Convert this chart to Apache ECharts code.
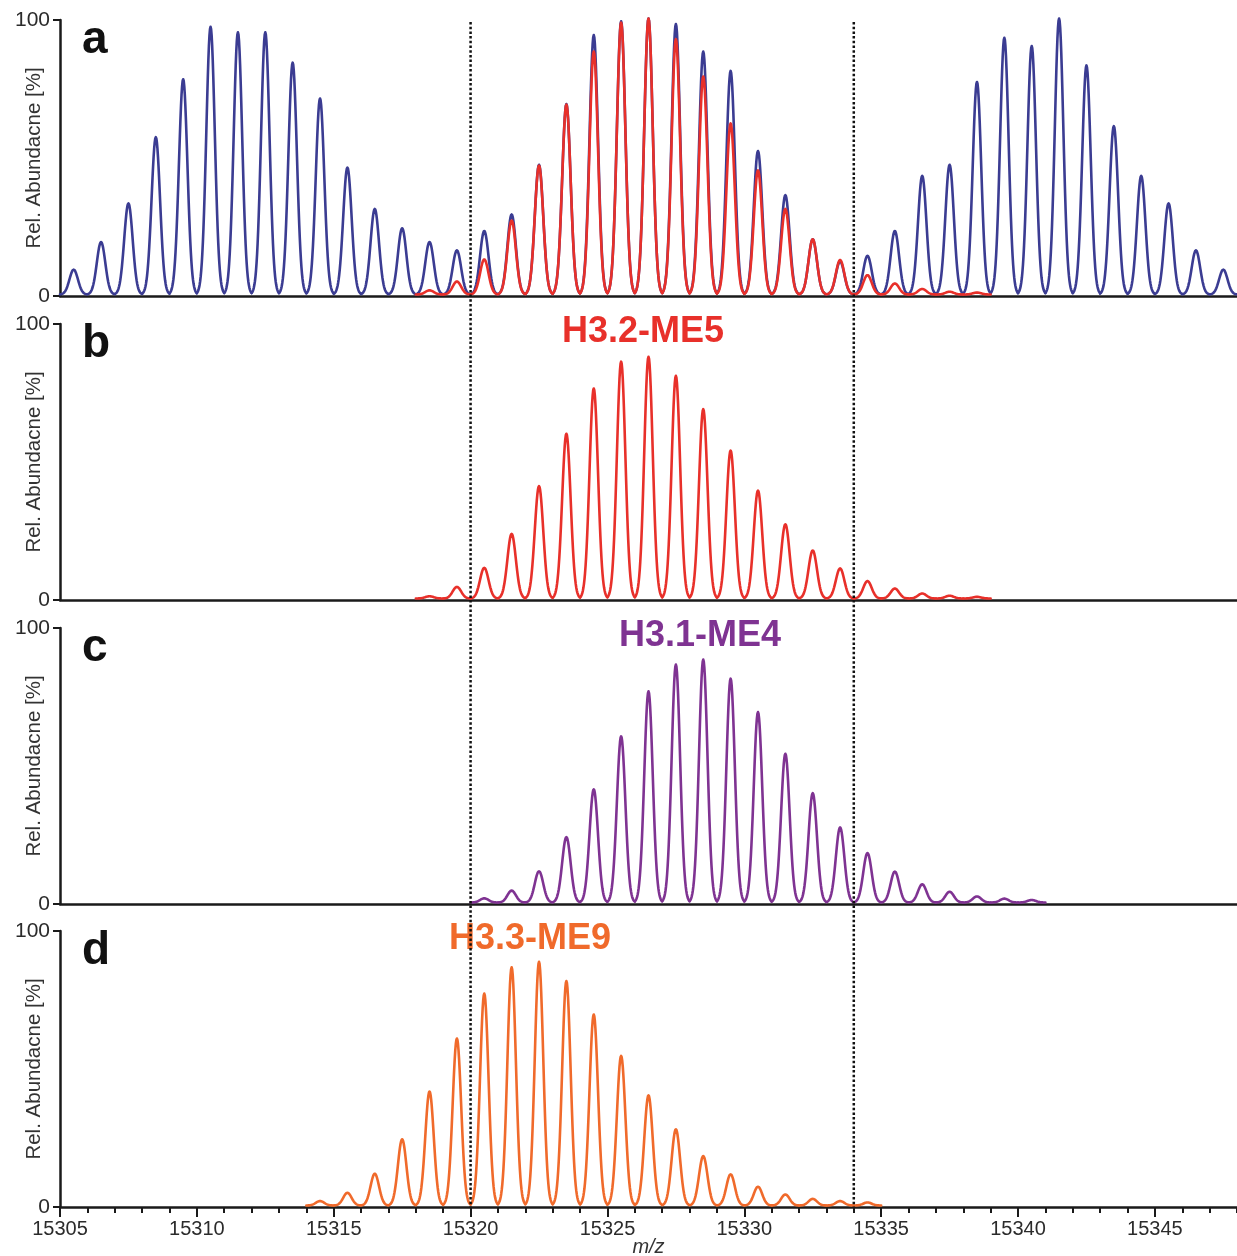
<!DOCTYPE html>
<html>
<head>
<meta charset="utf-8">
<script src="https://cdn.jsdelivr.net/npm/echarts@6/dist/echarts.min.js"></script>
<style>
  html, body { margin: 0; padding: 0; background: #ffffff; }
  #chart { width: 1237px; height: 1256px; }
</style>
</head>
<body>
<div id="chart"></div>
<script>
// Isotope peak lists (m/z of each peak apex, relative abundance in %)

// Panel a: measured spectrum (three overlapping envelopes)
const mzMeasured = [
  15305.5, 15306.5, 15307.5, 15308.5, 15309.5, 15310.5, 15311.5, 15312.5, 15313.5, 15314.5,
  15315.5, 15316.5, 15317.5, 15318.5, 15319.5, 15320.5, 15321.5, 15322.5, 15323.5, 15324.5,
  15325.5, 15326.5, 15327.5, 15328.5, 15329.5, 15330.5, 15331.5, 15332.5, 15333.5, 15334.5,
  15335.5, 15336.5, 15337.5, 15338.5, 15339.5, 15340.5, 15341.5, 15342.5, 15343.5, 15344.5,
  15345.5, 15346.5, 15347.5
];
const relMeasured = [
  9, 19, 33, 57, 78, 97, 95, 95, 84, 71,
  46, 31, 24, 19, 16, 23, 29, 47, 69, 94,
  99, 100, 98, 88, 81, 52, 36, 20, 12, 14,
  23, 43, 47, 77, 93, 90, 100, 83, 61, 43,
  33, 16, 9
];

// Panel a: H3.2-ME5 overlay, scaled to the measured envelope
const mzME5Overlay = [
  15318.5, 15319.5, 15320.5, 15321.5, 15322.5, 15323.5, 15324.5, 15325.5, 15326.5, 15327.5,
  15328.5, 15329.5, 15330.5, 15331.5, 15332.5, 15333.5, 15334.5, 15335.5, 15336.5, 15337.5,
  15338.5
];
const relME5Overlay = [
  1.5, 4.7, 12.7, 26.8, 46.7, 68.8, 88, 98.5, 100, 92.5,
  79, 62, 45, 31, 20, 12.5, 7, 4, 2, 1,
  0.7
];

// Panel b: H3.2-ME5
const mzME5 = [
  15318.5, 15319.5, 15320.5, 15321.5, 15322.5, 15323.5, 15324.5, 15325.5, 15326.5, 15327.5,
  15328.5, 15329.5, 15330.5, 15331.5, 15332.5, 15333.5, 15334.5, 15335.5, 15336.5, 15337.5,
  15338.5
];
const relME5 = [
  0.8, 4.2, 11.1, 23.4, 40.7, 59.7, 76.1, 85.8, 87.6, 80.7,
  68.6, 53.6, 39.1, 26.9, 17.4, 10.9, 6.3, 3.6, 1.8, 1.0,
  0.6
];

// Panel c: H3.1-ME4
const mzME4 = [
  15320.5, 15321.5, 15322.5, 15323.5, 15324.5, 15325.5, 15326.5, 15327.5, 15328.5, 15329.5,
  15330.5, 15331.5, 15332.5, 15333.5, 15334.5, 15335.5, 15336.5, 15337.5, 15338.5, 15339.5,
  15340.5
];
const relME4 = [
  1.5, 4.3, 11.3, 23.7, 41, 60.2, 76.5, 86.2, 88, 81.1,
  69, 53.9, 39.6, 27.2, 17.9, 11.2, 6.6, 3.9, 2.2, 1.4,
  0.9
];

// Panel d: H3.3-ME9
const mzME9 = [
  15314.5, 15315.5, 15316.5, 15317.5, 15318.5, 15319.5, 15320.5, 15321.5, 15322.5, 15323.5,
  15324.5, 15325.5, 15326.5, 15327.5, 15328.5, 15329.5, 15330.5, 15331.5, 15332.5, 15333.5,
  15334.5
];
const relME9 = [
  1.6, 4.6, 11.5, 24, 41.3, 60.5, 76.8, 86.3, 88.3, 81.3,
  69.2, 54.2, 39.9, 27.6, 17.9, 11.3, 6.8, 4.0, 2.4, 1.6,
  1.1
];

// Dotted reference lines
const markerMz = [15320, 15334];

// Axis labels
const xTickLabels = [15305, 15310, 15315, 15320, 15325, 15330, 15335, 15340, 15345];
const panelLetters = ['a', 'b', 'c', 'd'];
const speciesNames = ['H3.2-ME5', 'H3.1-ME4', 'H3.3-ME9'];
const yAxisTitle = 'Rel. Abundacne [%]';
const xAxisTitle = 'm/z';

// ---- styling / layout ----
const FONT = '"Liberation Sans", Arial, Helvetica, sans-serif';
const INK = '#1a1a1a';
const C_BLUE = '#3b3c92';
const C_RED = '#e8302a';
const C_PURPLE = '#7f3392';
const C_ORANGE = '#f06a2b';
const X_MIN = 15305, X_MAX = 15348;
const GRID_LEFT = 60, GRID_RIGHT = 0;
const PANEL_TOPS = [20, 324, 628, 931];
const PANEL_H = 276;
const PEAK_SIGMA = 0.155;  // peak width (m/z units) of the profile shape
const LIFT = 1.5;          // keeps the trace baseline just above the axis line

function toPairs(xs, ys) { return xs.map((x, i) => [x, ys[i]]); }

// Draws one isotope peak as a smooth profile spanning +/-0.5 m/z around its apex
function peakRenderer(color, width) {
  return function (params, api) {
    const c = api.value(0), h = api.value(1);
    const pts = [];
    for (let k = -25; k <= 25; k++) {
      const dx = k * 0.02;
      const y = h * Math.exp(-(dx * dx) / (2 * PEAK_SIGMA * PEAK_SIGMA));
      const p = api.coord([c + dx, y]);
      pts.push([p[0], p[1] - LIFT]);
    }
    return {
      type: 'polyline',
      silent: true,
      shape: { points: pts },
      style: { stroke: color, lineWidth: width, fill: null, lineJoin: 'round', lineCap: 'round' }
    };
  };
}

function spectrumSeries(name, xs, ys, gridIdx, color, z) {
  return {
    name: name,
    type: 'custom',
    xAxisIndex: gridIdx,
    yAxisIndex: gridIdx,
    data: toPairs(xs, ys),
    encode: { x: 0, y: 1 },
    renderItem: peakRenderer(color, 2.6),
    z: z,
    silent: true
  };
}

const grids = PANEL_TOPS.map(t => ({
  left: GRID_LEFT, right: GRID_RIGHT, top: t, height: PANEL_H,
  containLabel: false, outerBoundsMode: 'none'
}));
// overlay grid spanning all panels, used for the dotted reference lines
grids.push({
  left: GRID_LEFT, right: GRID_RIGHT, top: PANEL_TOPS[0] + 2,
  height: PANEL_TOPS[3] + PANEL_H - PANEL_TOPS[0] - 2,
  containLabel: false, outerBoundsMode: 'none'
});

const xAxes = PANEL_TOPS.map((t, i) => ({
  gridIndex: i,
  type: 'value',
  min: X_MIN,
  max: X_MAX,
  interval: 1,
  axisLine: { show: true, onZero: false, lineStyle: { color: INK, width: 2.5 } },
  axisTick: { show: i === 3, length: 6, lineStyle: { color: INK, width: 2 } },
  axisLabel: {
    show: i === 3,
    margin: 12,
    fontSize: 20,
    fontFamily: FONT,
    color: '#2b2b2b',
    formatter: v => (xTickLabels.indexOf(v) >= 0 ? String(v) : '')
  },
  splitLine: { show: false },
  name: i === 3 ? xAxisTitle : '',
  nameLocation: 'middle',
  nameGap: 30,
  nameMoveOverlap: false,
  nameTextStyle: { fontStyle: 'italic', fontSize: 20, fontFamily: FONT, color: '#333' }
}));
// longer ticks at every labelled position of the bottom axis
xAxes.push({
  gridIndex: 3,
  type: 'value',
  position: 'bottom',
  min: X_MIN,
  max: X_MAX,
  interval: 5,
  axisLine: { show: false },
  axisTick: { show: true, length: 10, customValues: xTickLabels, lineStyle: { color: INK, width: 2 } },
  axisLabel: { show: false },
  splitLine: { show: false }
});
xAxes.push({ gridIndex: 4, type: 'value', min: X_MIN, max: X_MAX, show: false });

const yAxes = PANEL_TOPS.map((t, i) => ({
  gridIndex: i,
  type: 'value',
  min: 0,
  max: 100,
  interval: 100,
  axisLine: { show: true, lineStyle: { color: INK, width: 2.5 } },
  axisTick: { show: true, length: 7, lineStyle: { color: INK, width: 2 } },
  axisLabel: { margin: 10, fontSize: 21, fontFamily: FONT, color: '#2b2b2b' },
  splitLine: { show: false },
  name: yAxisTitle,
  nameLocation: 'middle',
  nameRotate: 90,
  nameGap: 15,
  nameMoveOverlap: false,
  nameTextStyle: { fontSize: 20.5, fontFamily: FONT, color: '#333' }
}));
yAxes.push({ gridIndex: 4, type: 'value', min: 0, max: 1, show: false });

const series = [
  spectrumSeries('measured', mzMeasured, relMeasured, 0, C_BLUE, 2),
  spectrumSeries('H3.2-ME5 overlay', mzME5Overlay, relME5Overlay, 0, C_RED, 3),
  spectrumSeries(speciesNames[0], mzME5, relME5, 1, C_RED, 2),
  spectrumSeries(speciesNames[1], mzME4, relME4, 2, C_PURPLE, 2),
  spectrumSeries(speciesNames[2], mzME9, relME9, 3, C_ORANGE, 2),
  {
    name: 'markers',
    type: 'custom',
    xAxisIndex: 5,
    yAxisIndex: 4,
    data: markerMz.map(v => [v, 1]),
    encode: { x: 0, y: 1 },
    z: 6,
    silent: true,
    renderItem: function (params, api) {
      const x = api.value(0);
      const top = api.coord([x, 1]);
      const bottom = api.coord([x, 0]);
      return {
        type: 'line',
        silent: true,
        shape: { x1: top[0], y1: top[1], x2: bottom[0], y2: bottom[1] },
        style: { stroke: '#111', lineWidth: 2.5, lineDash: [2.5, 2.2] }
      };
    }
  }
];

// panel letters and species labels
const graphics = [];
panelLetters.forEach((L, i) => {
  graphics.push({
    type: 'text',
    x: 82,
    y: PANEL_TOPS[i] + 20,
    silent: true,
    style: { text: L, font: 'bold 46px ' + FONT, fill: '#111', verticalAlign: 'middle', align: 'left' }
  });
});
const speciesStyle = [
  { x: 643, y: 332, color: C_RED },
  { x: 700, y: 636, color: C_PURPLE },
  { x: 530, y: 939, color: C_ORANGE }
];
speciesNames.forEach((s, i) => {
  graphics.push({
    type: 'text',
    x: speciesStyle[i].x,
    y: speciesStyle[i].y,
    silent: true,
    style: { text: s, font: 'bold 36px ' + FONT, fill: speciesStyle[i].color, align: 'center', verticalAlign: 'middle' }
  });
});

const chart = echarts.init(document.getElementById('chart'), null, { renderer: 'canvas' });
chart.setOption({
  backgroundColor: '#ffffff',
  animation: false,
  grid: grids,
  xAxis: xAxes,
  yAxis: yAxes,
  series: series,
  graphic: graphics
});
</script>
</body>
</html>
